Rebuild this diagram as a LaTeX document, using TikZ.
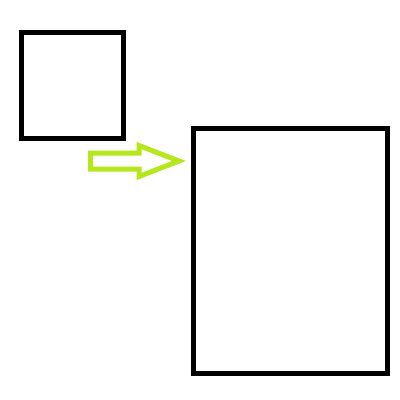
\documentclass[tikz,border=0pt]{standalone}
\usepackage{tikz}
\usetikzlibrary{positioning}
\definecolor{arrowgreen}{RGB}{182,230,28}

\begin{document}
\begin{tikzpicture}[
    x=1pt, y=-1pt,
    box/.style={rectangle, draw=black, line width=5pt, inner sep=0pt, outer sep=0pt},
    blockarrow/.style={draw=arrowgreen, line width=5pt, line join=miter}
]
\useasboundingbox (0,0) rectangle (400,400);
\node[box, minimum width=102pt, minimum height=105.5pt] (small) at (72.5,85.25) {};
\node[box, minimum width=194pt, minimum height=245pt] (large) at (290,250.5) {};

\draw[blockarrow] (90.5,153) -- (139,153) -- (139,145.5) -- (179,161)
    -- (139,176.5) -- (139,169) -- (90.5,169) -- cycle;
\end{tikzpicture}
\end{document}
